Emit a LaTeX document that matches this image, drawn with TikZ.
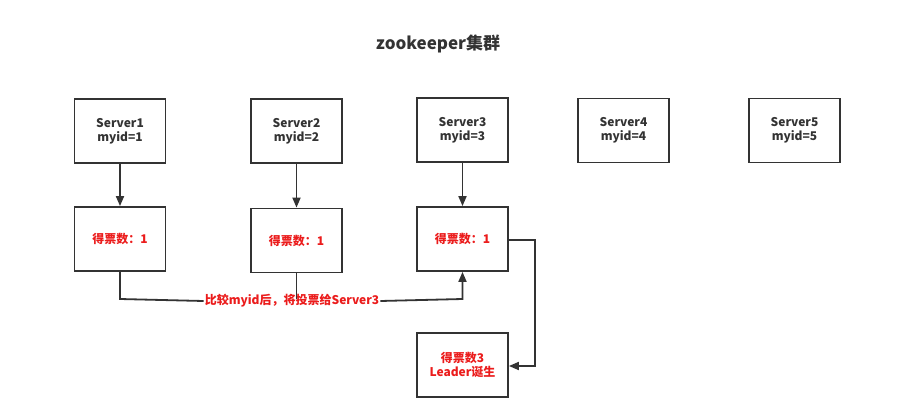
\documentclass[tikz,border=0pt]{standalone}
\usepackage{fontspec}
\setmainfont{Noto Sans CJK SC}
\usetikzlibrary{arrows.meta}
\definecolor{ln}{RGB}{51,51,51}
\definecolor{rd}{RGB}{235,28,28}
\begin{document}
\begin{tikzpicture}[x=1pt,y=-1pt,
  box/.style={draw=ln,line width=1.8pt,minimum width=91pt,minimum height=64pt,inner sep=0pt,align=center,font=\fontsize{12}{14}\selectfont\bfseries,text=ln},
  vote/.style={box,text=rd},
  conn/.style={draw=ln,line width=1.8pt},
  arr/.style={conn,-{Triangle[length=10pt,width=8pt]}}]
\useasboundingbox (0,0) rectangle (910,420);
\node[font=\fontsize{17}{19}\selectfont\bfseries,text=ln] (title) at (438,44) {zookeeper集群};
\node[box] (s1) at (120,131) {Server1\\myid=1};
\node[box] (s2) at (296.5,131) {Server2\\myid=2};
\node[box] (s3) at (462.5,130) {Server3\\myid=3};
\node[box] (s4) at (623.5,130.5) {Server4\\myid=4};
\node[box] (s5) at (794.5,130.5) {Server5\\myid=5};
\node[vote] (v1) at (120,239) {得票数：1};
\node[vote] (v2) at (296.5,240.5) {得票数：1};
\node[vote] (v3) at (462.5,239) {得票数：1};
\node[vote] (ld) at (462.5,365) {得票数3\\Leader诞生};
\node[font=\fontsize{12}{14}\selectfont\bfseries,text=rd,fill=white,inner sep=1pt] (lbl) at (292,301) {比较myid后，将投票给Server3};
\coordinate (c1) at (120,299);
\coordinate (c2) at (296.5,299);
\coordinate (c3) at (462.5,299);
\coordinate (r1) at (535,240);
\coordinate (r2) at (535,366);
\draw[arr] (s1) -- (v1);
\draw[arr] (s2) -- (v2);
\draw[arr] (s3) -- (v3);
\draw[conn] (v1.south) -- (c1) -- (lbl.west);
\draw[conn] (v2.south) -- (c2);
\draw[arr] (lbl.east) -- (c3) -- (v3.south);
\draw[arr] (v3.east |- r1) -- (r1) -- (r2) -- (ld.east |- r2);
\end{tikzpicture}
\end{document}
